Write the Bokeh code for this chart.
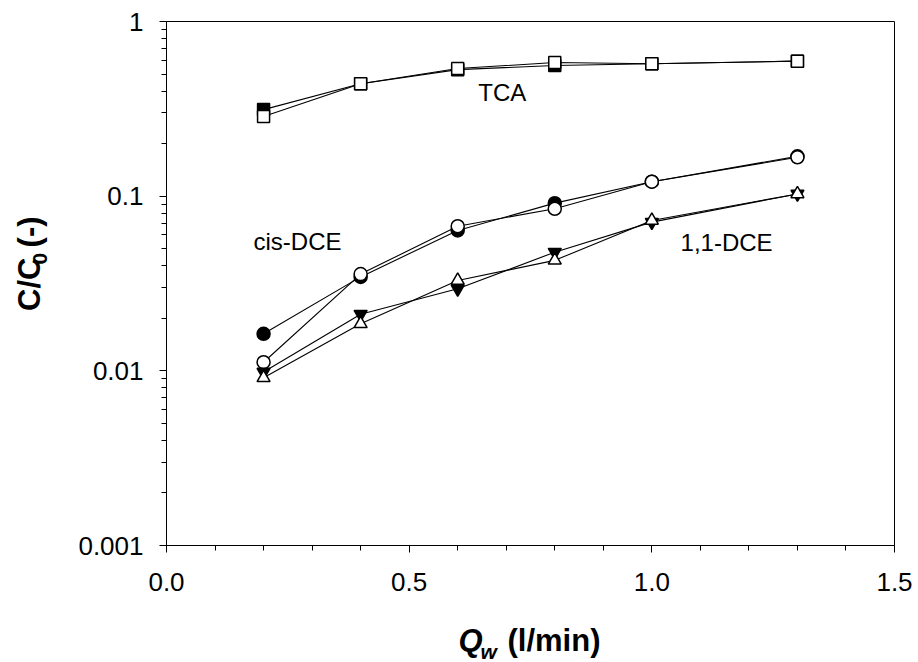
import math
from bokeh.plotting import figure
from bokeh.layouts import row, column
from bokeh.models import Range1d, FixedTicker, CustomJSTickFormatter, Label
from bokeh.core.properties import value
from bokeh.embed import file_html
from bokeh.resources import INLINE

# ---- data ----
qw = [0.2, 0.4, 0.6, 0.8, 1.0, 1.3]
tca_filled = [0.313, 0.44, 0.530, 0.560, 0.573, 0.593]
tca_open = [0.286, 0.44, 0.538, 0.582, 0.573, 0.593]
cis_filled = [0.0163, 0.0345, 0.0636, 0.0912, 0.121, 0.169]
cis_open = [0.0112, 0.0358, 0.0673, 0.0847, 0.121, 0.167]
dce_filled = [0.00984, 0.0211, 0.0295, 0.0478, 0.071, 0.103]
dce_open = [0.00912, 0.0186, 0.0329, 0.0429, 0.0726, 0.103]

x_ticks = [0.0, 0.5, 1.0, 1.5]
y_ticks = [0.001, 0.01, 0.1, 1]

labels_text = ["TCA", "cis-DCE", "1,1-DCE"]
labels_x = [0.692, 0.270, 1.154]
labels_y = [0.391, 0.0548, 0.0541]

FONT = "Liberation Sans"
W, H = 918, 662
YLAB_W = 70
XLAB_H = 52

p = figure(width=W - YLAB_W, height=H - XLAB_H, output_backend="svg", toolbar_location=None,
           y_axis_type="log", x_range=Range1d(0, 1.5), y_range=Range1d(0.001, 1),
           min_border_left=96, min_border_right=24, min_border_top=21, min_border_bottom=65)
p.background_fill_color = "white"
p.border_fill_color = "white"
p.outline_line_color = "black"
p.outline_line_width = 1
p.grid.visible = False

x_minor = [i / 10 for i in range(0, 16)]
y_minor = [m * 10.0 ** e for e in range(-3, 0) for m in range(1, 10)]
p.xaxis.ticker = FixedTicker(ticks=x_ticks, minor_ticks=x_minor)
p.yaxis.ticker = FixedTicker(ticks=y_ticks, minor_ticks=y_minor)
p.xaxis.formatter = CustomJSTickFormatter(code="return tick.toFixed(1)")
p.yaxis.formatter = CustomJSTickFormatter(code="return String(tick)")

for ax in (p.xaxis, p.yaxis):
    ax.axis_line_color = "black"
    ax.axis_line_width = 1
    ax.major_tick_in = 0
    ax.major_tick_out = 7
    ax.minor_tick_in = 0
    ax.minor_tick_out = 5
    ax.major_tick_line_color = "black"
    ax.minor_tick_line_color = "black"
    ax.major_label_text_font = FONT
    ax.major_label_text_font_size = "26px"
    ax.major_label_text_color = "black"
    ax.axis_label = None
p.xaxis.major_label_standoff = 20
p.yaxis.major_label_standoff = 16


def series(y, marker, fill):
    p.line(qw, y, line_color="black", line_width=1.1)
    p.scatter(qw, y, marker=marker, size=13 if marker != "square" else 12,
              fill_color=fill, line_color="black", line_width=1.5)


series(tca_filled, "square", "black")
series(tca_open, "square", "white")
series(cis_filled, "circle", "black")
series(cis_open, "circle", "white")
series(dce_filled, "inverted_triangle", "black")
series(dce_open, "triangle", "white")

for t, lx, ly in zip(labels_text, labels_x, labels_y):
    p.add_layout(Label(x=lx, y=ly, text=t, text_font=FONT, text_font_size="24px",
                       text_align="center", text_baseline="middle", text_color="black"))


def text_fig(w, h):
    f = figure(width=w, height=h, output_backend="svg", toolbar_location=None,
               x_range=Range1d(0, w), y_range=Range1d(0, h),
               x_axis_location=None, y_axis_location=None,
               min_border=0, min_border_left=0, min_border_right=0,
               min_border_top=0, min_border_bottom=0)
    f.outline_line_color = None
    f.grid.visible = False
    f.background_fill_color = "white"
    f.border_fill_color = "white"
    return f


def put(f, x, y, t, size, style, angle=0.0):
    f.text(x=[x], y=[y], text=[t], angle=angle, text_font=value(FONT),
           text_font_size=value(size), text_font_style=value(style),
           text_align=value("left"), text_baseline=value("alphabetic"),
           text_color="black")


# y axis title: C/C0 (-)
ylab = text_fig(YLAB_W, H - XLAB_H)
base_y = (H - XLAB_H) - 337
put(ylab, 29, base_y, "C/C", "31px", "bold", math.pi / 2)
put(ylab, 39, base_y + 54, "0", "21px", "bold", math.pi / 2)
put(ylab, 29, base_y + 74, "(-)", "31px", "bold", math.pi / 2)

# x axis title: Qw (l/min)
xlab = text_fig(W, XLAB_H)
put(xlab, 458, 22, "Q", "31px", "bold italic")
put(xlab, 480, 11, "w", "21px", "bold italic")
put(xlab, 507, 22, "(l/min)", "31px", "bold")

layout = column(row(ylab, p, spacing=0), xlab, spacing=0)

open("out.html", "w").write(file_html(layout, INLINE))
